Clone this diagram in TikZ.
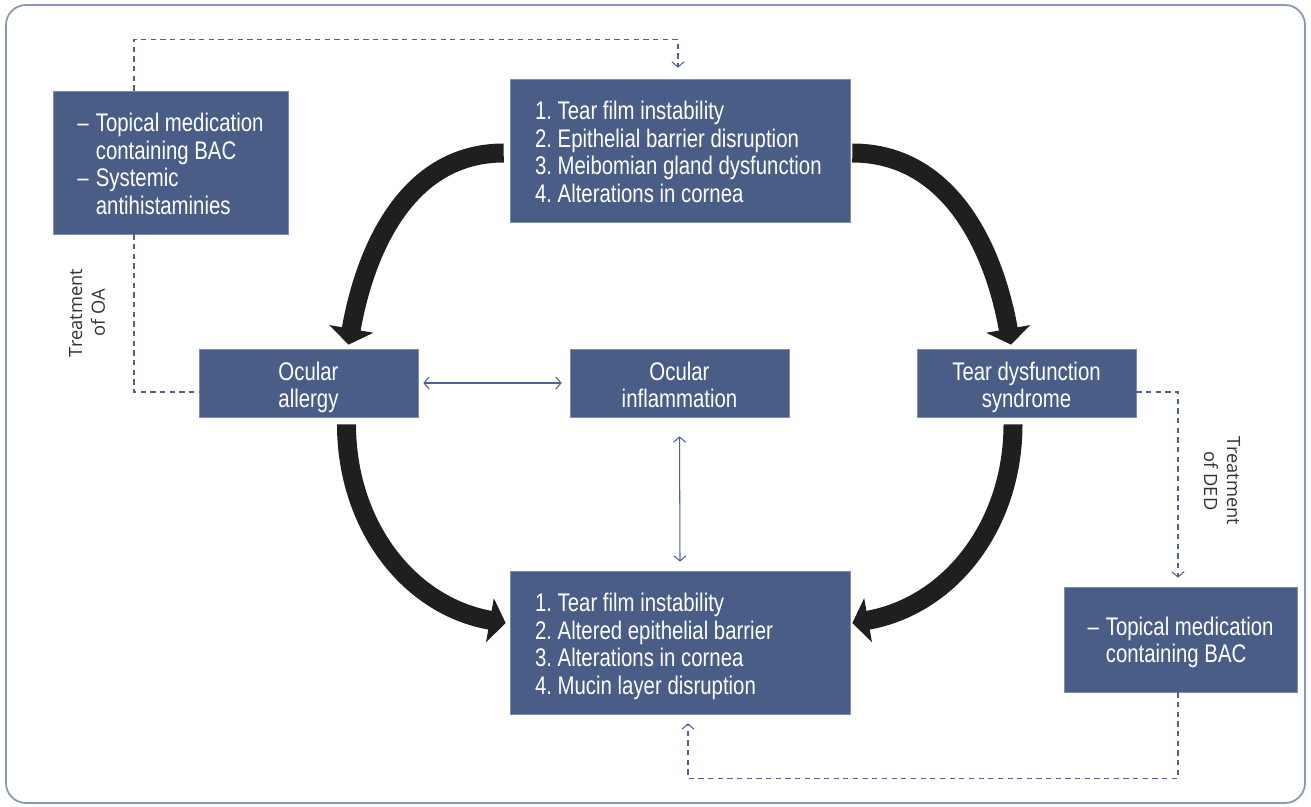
\documentclass[tikz,border=0pt]{standalone}
\usepackage{fontspec}
\setmainfont{Liberation Sans}[FakeStretch=0.8]
\newfontfamily\sidefont{Open Sans}
\usetikzlibrary{arrows.meta}
\definecolor{boxblue}{HTML}{4A5D87}
\definecolor{lineblue}{HTML}{4E6293}
\definecolor{framegray}{HTML}{8A97B8}
\definecolor{flowblack}{HTML}{1F1F1F}
\definecolor{labelgray}{HTML}{333333}
\frenchspacing
% box contents
\newcommand\boxlist[1]{\makebox[5.8cm][l]{\begin{tabular}{@{}l@{}}\rule{0pt}{16.7pt}#1\end{tabular}}}
\newcommand\boxlines[1]{\begin{tabular}{@{}c@{}}\rule{0pt}{17.3pt}#1\end{tabular}}
\tikzset{
	box/.style={fill=boxblue,draw=boxblue!70!white,line width=0.4pt,text=white,inner sep=0pt,font=\fontsize{14.5}{15.9}\selectfont},
	listbox/.style={box,minimum width=6.8cm,minimum height=2.86cm},
	smallbox/.style={box,minimum width=4.38cm,minimum height=1.36cm},
	flow/.style={draw=flowblack,line width=0.38cm,-{Triangle[length=0.32cm,width=0.88cm]}},
	barb/.tip={Straight Barb[length=3pt,width=7pt]},
	link/.style={draw=lineblue,line width=0.6pt,barb-barb},
	dline/.style={draw=lineblue,line width=0.6pt,dash pattern=on 3pt off 2.5pt},
	sidelabel/.style={font=\sidefont\fontsize{10.4}{13}\selectfont,text=labelgray,align=center,inner sep=0pt}
}
\begin{document}
\begin{tikzpicture}[x=0.02cm,y=-0.02cm]
		\useasboundingbox (0,0) rectangle (1311,807);
		\draw[framegray,line width=1pt,rounded corners=0.4cm] (6,5) rectangle (1305,803);
		% boxes
		\node (tear1) [listbox] at (680,150.5) {\boxlist{1. Tear film instability\\2. Epithelial barrier disruption\\3. Meibomian gland dysfunction\\4. Alterations in cornea}};
		\node (oa) [box,minimum width=4.7cm,minimum height=2.86cm] at (170.5,162.5) {\begin{tabular}{@{}l@{\hspace{4pt}}l@{}}–&Topical medication\rule{0pt}{16.7pt}\\&containing BAC\\–&Systemic\\&antihistaminies\end{tabular}};
		\node (allergy) [smallbox] at (308.5,383) {\boxlines{Ocular\\allergy}};
		\node (inflam) [smallbox] at (679.5,383) {\boxlines{Ocular\\inflammation}};
		\node (tds) [smallbox] at (1026.5,383) {\boxlines{Tear dysfunction\\syndrome}};
		\node (tear2) [listbox] at (680,642.5) {\boxlist{1. Tear film instability\\2. Altered epithelial barrier\\3. Alterations in cornea\\4. Mucin layer disruption}};
		\node (ded) [box,minimum width=4.66cm,minimum height=2.1cm] at (1180.5,639.5) {\begin{tabular}{@{}l@{\hspace{4pt}}l@{}}–&Topical medication\rule{0pt}{15.6pt}\\&containing BAC\end{tabular}};
		\node (oalabel) [sidelabel,rotate=90] at (87,313) {Treatment\\of OA};
		\node (dedlabel) [sidelabel,rotate=-90] at (1222,481) {Treatment\\of DED};
		% thick cycle arrows
		\draw [flow] ([xshift=-0.12cm,yshift=-0.05cm]tear1.west) to[out=180,in=80] ([xshift=0.8cm,yshift=0.08cm]allergy.north);
		\draw [flow] ([xshift=0.04cm,yshift=-0.05cm]tear1.east) to[out=0,in=100] ([xshift=-0.31cm,yshift=0.08cm]tds.north);
		\draw [flow] ([xshift=0.76cm,yshift=-0.14cm]allergy.south) to[out=-90,in=170] ([xshift=-0.08cm,yshift=0.39cm]tear2.west);
		\draw [flow] ([xshift=-0.27cm,yshift=-0.14cm]tds.south) to[out=-90,in=10] ([xshift=0.04cm,yshift=0.39cm]tear2.east);
		% thin links
		\draw [link] ([xshift=0.1cm]allergy.east) -- ([xshift=-0.16cm]inflam.west);
		\draw [link] ([yshift=-0.38cm]inflam.south) -- ([yshift=0.18cm]tear2.north);
		% treatment paths
		\draw [dline,-barb] ([xshift=-0.73cm]oa.north) -- ++(0,-51) -| ([xshift=-0.04cm,yshift=0.22cm]tear1.north);
		\draw [dline] ([xshift=-0.73cm]oa.south) |- ([yshift=-0.18cm]allergy.west);
		\draw [dline,-barb] ([yshift=-0.18cm]tds.east) -| ([xshift=-0.05cm,yshift=0.18cm]ded.north);
		\draw [dline,-barb] ([xshift=-0.05cm]ded.south) -- ++(0,86) -| ([xshift=0.16cm,yshift=-0.18cm]tear2.south);
\end{tikzpicture}
\end{document}
